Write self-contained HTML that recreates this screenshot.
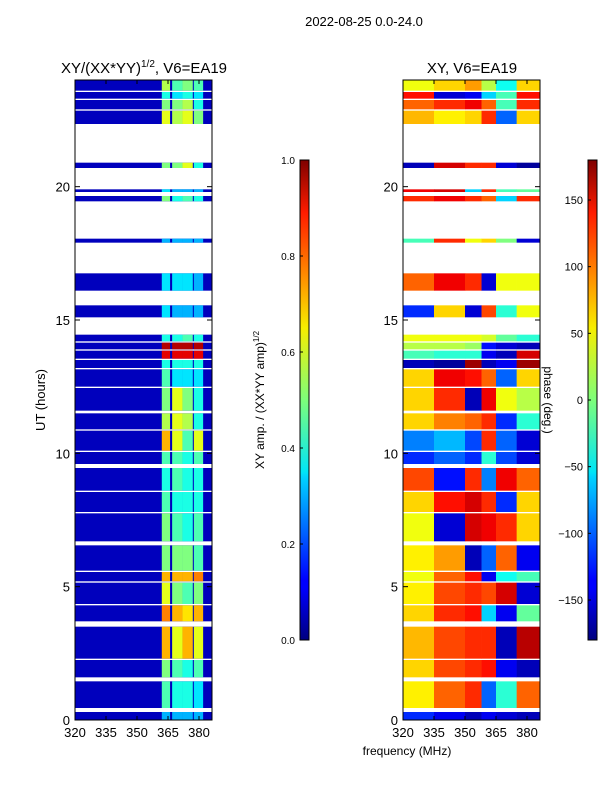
<!DOCTYPE html>
<html><head><meta charset="utf-8">
<style>
html,body{margin:0;padding:0;background:#fff;}
svg{display:block;font-family:"Liberation Sans",sans-serif;}
</style></head>
<body>
<svg id="fig" width="600" height="800" viewBox="0 0 600 800" xmlns="http://www.w3.org/2000/svg">
<defs>
<linearGradient id="jetV" x1="0" y1="1" x2="0" y2="0">
<stop offset="0" stop-color="#00007f"/><stop offset="0.11" stop-color="#0000ff"/>
<stop offset="0.125" stop-color="#0000ff"/><stop offset="0.34" stop-color="#00d4ff"/>
<stop offset="0.35" stop-color="#00e5f7"/><stop offset="0.5" stop-color="#7dff7a"/>
<stop offset="0.65" stop-color="#f7ee00"/><stop offset="0.75" stop-color="#ff9400"/>
<stop offset="0.89" stop-color="#ff1c00"/><stop offset="1" stop-color="#7f0000"/>
</linearGradient>
</defs>
<text x="364" y="26" font-size="13" text-anchor="middle">2022-08-25 0.0-24.0</text>
<text x="144" y="73" font-size="15" text-anchor="middle">XY/(XX*YY)<tspan font-size="10" dy="-6">1/2</tspan><tspan dy="6">, V6=EA19</tspan></text>
<text x="472" y="73" font-size="15" text-anchor="middle">XY, V6=EA19</text>
<g id="leftPlot"></g>
<g id="rightPlot"></g>
<g id="axes"></g>
<text transform="translate(45,400) rotate(-90)" font-size="13" text-anchor="middle">UT (hours)</text>
<text x="407" y="755" font-size="12" text-anchor="middle">frequency (MHz)</text>
<rect x="300" y="160" width="9" height="480" fill="url(#jetV)" stroke="#000" stroke-width="1"/>
<rect x="588" y="160" width="9" height="480" fill="url(#jetV)" stroke="#000" stroke-width="1"/>
<text transform="translate(264,400) rotate(-90)" font-size="12" text-anchor="middle">XY amp. / (XX*YY amp)<tspan font-size="8" dy="-5">1/2</tspan></text>
<text transform="translate(544,400) rotate(90)" font-size="12" text-anchor="middle">phase (deg.)</text>
<g id="cbticks"></g>
</svg>
<script>
// time rows (hours) with data
var rowStart = [23.6,23.3,22.9,22.35,20.7,19.8,19.45,17.9,16.1,15.1,14.2,13.9,13.55,13.2,12.5,11.6,10.9,10.1,9.6,8.6,7.8,6.7,5.6,5.2,4.35,3.7,2.3,1.6,0.45,0];
var rowEnd   = [24,23.55,23.25,22.85,20.9,19.9,19.65,18.05,16.75,15.55,14.45,14.15,13.85,13.5,13.15,12.45,11.5,10.85,10.05,9.45,8.55,7.75,6.55,5.55,5.15,4.3,3.5,2.25,1.45,0.3];
// amplitude of 4 bright sub-bands
var ampBands = [[362,366],[367,372],[372,377],[377.5,382]];
var ampBase = 0.06;
var ampVals = [[.55,.45,.5,.45],[.4,.35,.4,.35],[.5,.5,.55,.4],[.6,.55,.6,.5],[.5,.5,.6,.4],[.35,.3,.3,.3],[.5,.4,.45,.4],[.3,.3,.3,.3],[.35,.35,.35,.3],[.35,.3,.3,.3],[.4,.4,.45,.4],[.95,.95,.95,.95],[.9,.9,.9,.9],[.4,.4,.4,.4],[.45,.35,.35,.35],[.5,.6,.5,.4],[.55,.6,.55,.4],[.7,.6,.45,.6],[.45,.45,.4,.45],[.4,.45,.4,.4],[.45,.4,.4,.4],[.5,.45,.4,.45],[.5,.5,.5,.45],[.7,.7,.7,.75],[.6,.5,.45,.5],[.75,.7,.65,.7],[.7,.6,.7,.6],[.5,.45,.4,.45],[.45,.4,.4,.35],[.3,.3,.3,.3]];
// phase bands (MHz edges)
var phaseEdges = [320,335,350,358,365,375,386.3];
var phaseVals = [[40,60,80,20,-40,60],[130,-150,-140,-60,-20,130],[100,120,140,100,-20,120],[70,50,60,120,-100,60],[-160,150,120,120,-150,-170],[140,150,-60,120,-20,-10],[120,140,120,100,-60,120],[-20,120,40,60,0,-150],[100,140,120,-150,40,40],[-120,60,-150,110,-30,40],[40,40,40,30,-10,-30],[20,20,10,-130,-150,-160],[-20,-30,-30,-140,-160,150],[-160,-170,170,-160,-140,170],[60,140,130,100,-100,60],[60,120,-160,140,40,20],[60,90,100,120,-120,-30],[-90,-70,-110,120,-100,-150],[-120,-100,-120,-30,-110,-150],[110,-130,120,-90,140,100],[60,130,150,120,-120,60],[40,-150,150,140,120,60],[50,80,-160,-100,100,-140],[40,100,130,-140,-40,-20],[50,110,120,110,150,-150],[60,120,130,-60,-140,-10],[70,110,120,120,-160,160],[60,110,120,130,-140,-160],[50,100,120,-100,-30,100],[-120,-140,-160,-140,-150,-160]];
var xTicks = [320,335,350,365,380];
var yTicks = [0,5,10,15,20];
var ampTicks = [0.0,0.2,0.4,0.6,0.8,1.0];
var phaseTicks = [-150,-100,-50,0,50,100,150];

var NS="http://www.w3.org/2000/svg";
function jet(v){v=Math.max(0,Math.min(1,v));
 function c(x){return Math.round(255*Math.max(0,Math.min(1,x)));}
 var r=c(1.5-Math.abs(4*v-3)),g=c(1.5-Math.abs(4*v-2)),b=c(1.5-Math.abs(4*v-1));
 return "rgb("+r+","+g+","+b+")";}
function yS(h){return 720-(h/24)*640;}
function xL(f){return 75+(f-320)*(124/60);}
function xR(f){return 403+(f-320)*(124/60);}
function mk(tag,attrs,parent){var e=document.createElementNS(NS,tag);for(var k in attrs)e.setAttribute(k,attrs[k]);parent.appendChild(e);return e;}
var L=document.getElementById('leftPlot'),R=document.getElementById('rightPlot'),A=document.getElementById('axes'),C=document.getElementById('cbticks');
for(var i=0;i<rowStart.length;i++){
 var y0=yS(rowEnd[i]),y1=yS(rowStart[i]);
 var base=mk('rect',{x:75,y:y0,width:137,height:y1-y0,fill:jet(ampBase)},L);
 
 
 for(var j=0;j<ampBands.length;j++){
  var c=mk('rect',{x:xL(ampBands[j][0]),y:y0,width:xL(ampBands[j][1])-xL(ampBands[j][0]),height:y1-y0,fill:jet(ampVals[i][j])},L);
  
  
 }
 for(var k=0;k<phaseEdges.length-1;k++){
  var p=mk('rect',{x:xR(phaseEdges[k]),y:y0,width:xR(phaseEdges[k+1])-xR(phaseEdges[k])+0.3,height:y1-y0,fill:jet((phaseVals[i][k]+180)/360)},R);
  
  
 }
}
[[75,xL],[403,xR]].forEach(function(pp){
 var x0=pp[0],fx=pp[1];
 var fr=mk('rect',{x:x0,y:80,width:137,height:640,fill:'none',stroke:'#000','stroke-width':1},A);
 
 
 xTicks.forEach(function(t){var x=fx(t);
  mk('line',{x1:x,y1:720,x2:x,y2:716,stroke:'#000'},A);mk('line',{x1:x,y1:80,x2:x,y2:84,stroke:'#000'},A);
  var tx=mk('text',{x:x,y:737,'font-size':13,'text-anchor':'middle'},A);tx.textContent=t;
  
  });
 yTicks.forEach(function(t){var y=yS(t);
  mk('line',{x1:x0,y1:y,x2:x0+5,y2:y,stroke:'#000'},A);mk('line',{x1:x0+137,y1:y,x2:x0+132,y2:y,stroke:'#000'},A);
  var ty=mk('text',{x:x0-5,y:y+5,'font-size':13,'text-anchor':'end'},A);ty.textContent=t;
  
  });
});
ampTicks.forEach(function(t){var y=640-t*480;
 mk('line',{x1:300,y1:y,x2:303,y2:y,stroke:'#000'},C);
 var e=mk('text',{x:295,y:y+4,'font-size':10,'text-anchor':'end'},C);e.textContent=t.toFixed(1);
 
 });
phaseTicks.forEach(function(t){var y=400-t*480/360;
 mk('line',{x1:588,y1:y,x2:591,y2:y,stroke:'#000'},C);
 var e=mk('text',{x:583,y:y+4,'font-size':11,'text-anchor':'end'},C);e.textContent=t<0?'\u2212'+(-t):t;
 
 });
</script>
</body></html>
